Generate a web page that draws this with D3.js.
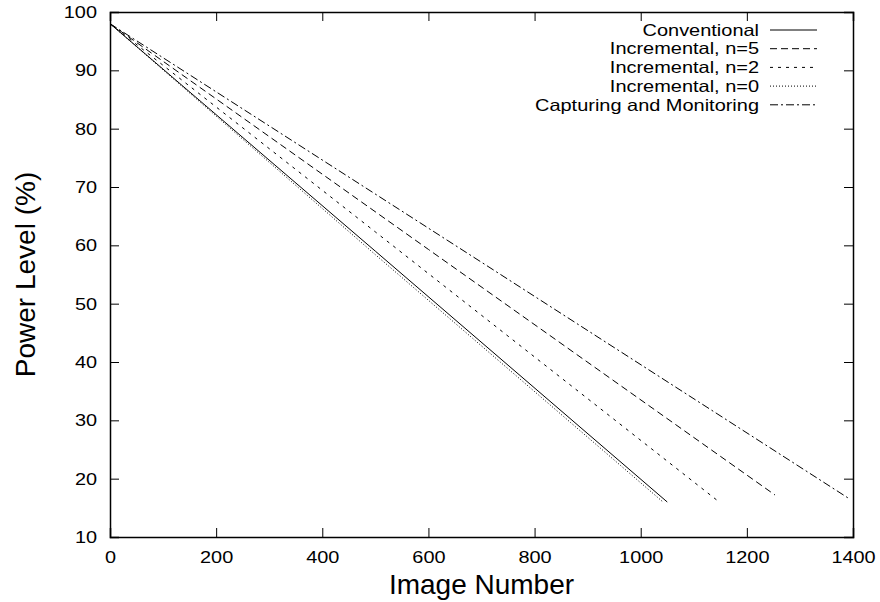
<!DOCTYPE html>
<meta charset="utf-8">
<script src="https://d3js.org/d3.v7.min.js"></script>
<style>
  body { margin: 0; background: #fff; }
  text { font-family: "Liberation Sans", Arial, sans-serif; fill: #000; }
</style>
<div id="chart"></div>
<script>
// series names, in legend order
const seriesNames = ["Conventional", "Incremental, n=5", "Incremental, n=2", "Incremental, n=0", "Capturing and Monitoring"];
// image number (x) and power level (y)
const conventionalX = [0, 500, 1050];
const conventionalY = [98, 59, 16];
const incr5X = [0, 600, 1253];
const incr5Y = [98, 59.3, 17.2];
const incr2X = [0, 500, 1148];
const incr2Y = [98, 62.3, 16];
const incr0X = [0, 500, 1042];
const incr0Y = [98, 58.4, 16];
const captureX = [0, 700, 1394];
const captureY = [98, 57.1, 16.5];

const xTicks = [0, 200, 400, 600, 800, 1000, 1200, 1400];
const yTicks = [10, 20, 30, 40, 50, 60, 70, 80, 90, 100];

const dashes = ["none", "7,4", "3,5", "1,2", "8,3,2,3"];

const W = 880, H = 602;
const margin = {top: 12, right: 27, bottom: 65, left: 110};
const width = W - margin.left - margin.right,
      height = H - margin.top - margin.bottom;

// the original text is a little wider than Liberation Sans
const stretch = "scale(1.17,1)";

const svg = d3.select("#chart").append("svg")
    .attr("width", W).attr("height", H);
const g = svg.append("g")
    .attr("transform", `translate(${margin.left},${margin.top})`);

const x = d3.scaleLinear().domain([0, 1400]).range([0, width]);
const y = d3.scaleLinear().domain([10, 100]).range([height, 0]);

// axes with inward ticks, mirrored on top/right (gnuplot style)
const tick = 9;
const xAxis = g.append("g").attr("transform", `translate(0,${height})`)
    .call(d3.axisBottom(x).tickValues(xTicks).tickSize(-tick).tickFormat(d3.format("d")));
const yAxis = g.append("g")
    .call(d3.axisLeft(y).tickValues(yTicks).tickSize(-tick).tickFormat(d3.format("d")));
g.append("g")
    .call(d3.axisTop(x).tickValues(xTicks).tickSize(-tick).tickFormat(""));
g.append("g").attr("transform", `translate(${width},0)`)
    .call(d3.axisRight(y).tickValues(yTicks).tickSize(-tick).tickFormat(""));

g.selectAll(".domain").attr("stroke", "#000").attr("stroke-width", 1.5);
g.selectAll(".tick line").attr("stroke", "#000").attr("stroke-width", 1);
g.selectAll(".tick text").style("font-size", "17px")
    .style("font-family", "'Liberation Sans', Arial, sans-serif");

xAxis.selectAll(".tick text")
    .attr("y", 0).attr("dy", 0)
    .attr("transform", `translate(0,26) ${stretch}`);
yAxis.selectAll(".tick text")
    .attr("x", 0)
    .attr("transform", `translate(-13,0) ${stretch}`);

// data
const series = [
  {xs: conventionalX, ys: conventionalY},
  {xs: incr5X, ys: incr5Y},
  {xs: incr2X, ys: incr2Y},
  {xs: incr0X, ys: incr0Y},
  {xs: captureX, ys: captureY}
].map((s, i) => ({name: seriesNames[i], dash: dashes[i],
  pts: s.xs.map((v, j) => [v, s.ys[j]])}));

const line = d3.line().x(d => x(d[0])).y(d => y(d[1]));

g.selectAll(".series").data(series).join("path")
    .attr("class", "series")
    .attr("d", d => line(d.pts))
    .attr("fill", "none")
    .attr("stroke", "#000")
    .attr("stroke-width", 1)
    .attr("stroke-dasharray", d => d.dash);

// legend
const legend = g.append("g").attr("transform", `translate(${width - 94},18)`);
const row = legend.selectAll("g").data(series).join("g")
    .attr("transform", (d, i) => `translate(0,${i * 18.7})`);
row.append("text")
    .attr("dy", "0.35em")
    .attr("text-anchor", "end")
    .attr("transform", "scale(1.21,1)")
    .style("font-size", "16.5px")
    .text(d => d.name);
row.append("line")
    .attr("x1", 11).attr("x2", 58)
    .attr("stroke", "#000").attr("stroke-width", 1)
    .attr("stroke-dasharray", d => d.dash);

// axis titles
svg.append("text")
    .attr("x", margin.left + width / 2).attr("y", 594)
    .attr("text-anchor", "middle")
    .style("font-size", "28px")
    .text("Image Number");
svg.append("text")
    .attr("transform", `translate(35,${margin.top + height / 2}) rotate(-90)`)
    .attr("text-anchor", "middle")
    .style("font-size", "28px")
    .text("Power Level (%)");
</script>
